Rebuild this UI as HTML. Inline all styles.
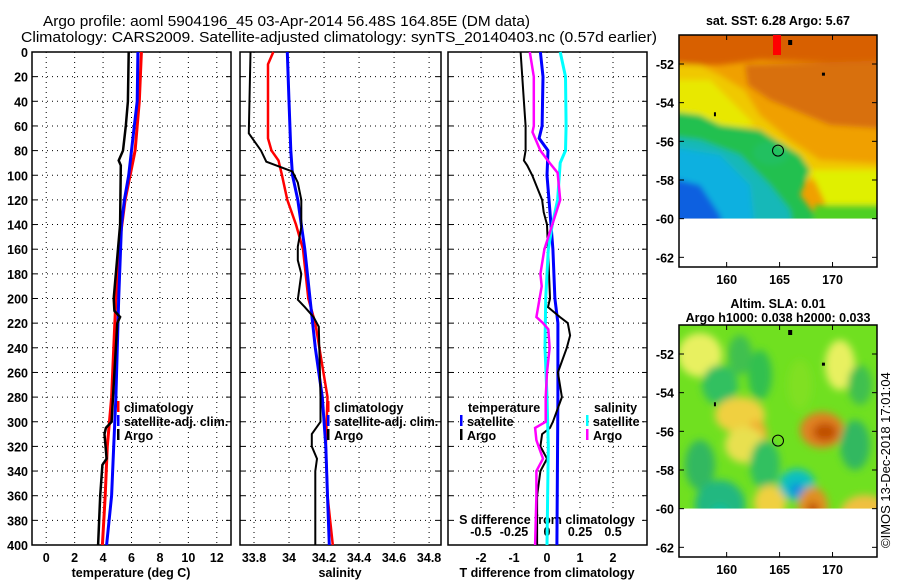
<!DOCTYPE html>
<html><head><meta charset="utf-8">
<style>
html,body{margin:0;padding:0;background:#fff;}
svg{display:block;font-family:"Liberation Sans",sans-serif;}
.tk{font-weight:bold;font-size:12.5px;fill:#000;}
.lg{font-weight:bold;font-size:12.5px;fill:#000;}
</style></head>
<body>
<svg id="chart" width="900" height="580" viewBox="0 0 900 580" xmlns="http://www.w3.org/2000/svg">
<text x="43" y="26" font-size="15" textLength="487" lengthAdjust="spacingAndGlyphs">Argo profile: aoml 5904196_45 03-Apr-2014 56.48S 164.85E (DM data)</text>
<text x="21" y="42" font-size="15" textLength="636" lengthAdjust="spacingAndGlyphs">Climatology: CARS2009. Satellite-adjusted climatology: synTS_20140403.nc (0.57d earlier)</text>
<g id="g-main"></g>
<g id="g-maps"></g>
<text transform="translate(890,548) rotate(-90)" font-size="13">©IMOS 13-Dec-2018 17:01:04</text>
</svg>
<script>
// ---- data ----
const depthTicks = [0,20,40,60,80,100,120,140,160,180,200,220,240,260,280,300,320,340,360,380,400];
const tempTicks = [0,2,4,6,8,10,12];
const salTicks = [33.8,34,34.2,34.4,34.6,34.8];
const salTickLabels = ["33.8","34","34.2","34.4","34.6","34.8"];
const tdiffTicks = [-2,-1,0,1,2];
const sdiffTicks = [-0.5,-0.25,0,0.25,0.5];
const sdiffTickLabels = ["-0.5","-0.25","0","0.25","0.5"];

const argoTDepth = [0,40,60,80,88,92,140,200,210,215,220,260,300,305,310,330,335,360,400];
const argoT      = [5.8,5.75,5.6,5.4,5.1,5.25,5.2,4.75,4.8,5.2,5.0,4.8,4.6,4.2,4.1,4.25,3.95,3.8,3.65];
const climTDepth = [0,40,80,120,160,200,280,320,360,400];
const climT      = [6.7,6.55,6.25,5.55,5.1,4.9,4.6,4.3,4.15,3.95];
const satTDepth  = [0,40,60,80,100,120,140,200,280,320,360,400];
const satT       = [6.45,6.4,6.2,6.0,5.8,5.5,5.3,5.1,4.9,4.75,4.6,4.25];

const argoSDepth = [0,66,80,89,97,106,120,142,158,169,180,201,207,215,223,280,300,310,320,330,340,400];
const argoS      = [33.78,33.77,33.84,33.87,34.02,34.05,34.07,34.07,34.05,34.05,34.07,34.05,34.09,34.14,34.17,34.18,34.18,34.13,34.13,34.16,34.15,34.15];
const climSDepth = [0,10,70,80,88,100,120,140,160,200,220,280,320,360,400];
const climS      = [33.91,33.88,33.88,33.9,33.94,33.96,33.99,34.04,34.08,34.11,34.15,34.22,34.21,34.22,34.25];
const satSDepth  = [0,40,80,100,120,140,160,200,240,280,320,360,400];
const satS       = [33.99,34.0,34.01,34.02,34.05,34.07,34.09,34.12,34.15,34.19,34.21,34.22,34.23];

const dTsatDepth = [0,20,60,70,80,100,130,160,200,220,280,400];
const dTsat      = [-0.2,-0.12,-0.15,-0.24,0.03,0.0,0.09,0.18,0.24,0.33,0.33,0.3];
const dTargoDepth= [0,40,60,80,88,92,100,120,130,140,160,200,207,215,220,230,240,260,280,300,305,310,320,330,340,360,400];
const dTargo     = [-0.8,-0.7,-0.65,-0.65,-0.7,-0.6,-0.45,-0.15,-0.1,0.0,0.03,0.09,0.03,0.39,0.63,0.7,0.6,0.33,0.45,0.18,0.09,-0.15,-0.2,0.0,-0.2,-0.3,-0.3];
const dSargoDepth= [0,20,60,65,80,90,98,120,140,160,180,190,215,220,225,240,260,280,300,305,315,330,340,360,400];
const dSargo     = [-0.13,-0.1,-0.1,-0.11,-0.05,0.02,0.08,0.1,0.04,-0.02,-0.05,-0.04,-0.08,-0.03,0.01,0.02,0.0,-0.01,-0.01,-0.09,-0.08,-0.03,-0.08,-0.08,-0.09];
const dSsatDepth = [0,20,60,80,90,120,140,160,200,240,280,320,400];
const dSsat      = [0.1,0.14,0.145,0.14,0.1,0.08,0.04,0.01,-0.01,-0.015,0.0,0.01,0.0];

const latTicks = [-52,-54,-56,-58,-60,-62];
const lonTicks = [160,165,170];

// ---- helpers ----
const NS="http://www.w3.org/2000/svg";
function mk(tag,attrs,parent){const e=document.createElementNS(NS,tag);for(const k in attrs)e.setAttribute(k,attrs[k]);parent.appendChild(e);return e;}
const G=document.getElementById('g-main');
const top0=52, bot0=545;
function yD(d){return top0+(bot0-top0)*d/400;}

function panel(x0,x1,xmin,xmax,ticks,name,gridTicks){
  const xs=v=>x0+(x1-x0)*(v-xmin)/(xmax-xmin);
  const g=mk('g',{},G);
  
  
  depthTicks.forEach(d=>{ if(d>0&&d<400){const l=mk('line',{x1:x0,x2:x1,y1:yD(d),y2:yD(d),stroke:'#000','stroke-width':1,'stroke-dasharray':'1,4'},g);
    }
    mk('line',{x1:x0,x2:x0+5,y1:yD(d),y2:yD(d),stroke:'#000'},g);
    mk('line',{x1:x1-5,x2:x1,y1:yD(d),y2:yD(d),stroke:'#000'},g);});
  gridTicks.forEach(v=>{const l=mk('line',{x1:xs(v),x2:xs(v),y1:top0,y2:bot0,stroke:'#000','stroke-width':1,'stroke-dasharray':'1,4'},g);
    });
  const r=mk('rect',{x:x0,y:top0,width:x1-x0,height:bot0-top0,fill:'none',stroke:'#000','stroke-width':1.5},g);
  
  return {xs,g};
}
function series(p,depths,vals,color,w,name){
  const pts=depths.map((d,i)=>p.xs(vals[i]).toFixed(1)+','+yD(d).toFixed(1)).join(' ');
  const l=mk('polyline',{points:pts,fill:'none',stroke:color,'stroke-width':w},p.g);
  
  
}
function txt(x,y,s,cls,anchor,parent,name){const t=mk('text',{x,y,class:cls,'text-anchor':anchor||'start'},parent||G);t.textContent=s;
  return t;}

// Panel 1: temperature
const p1=panel(32,231,-1,13,tempTicks,'temperature',tempTicks);
tempTicks.forEach(v=>txt(p1.xs(v),562,String(v),'tk','middle',p1.g,'x-tick-label'));
depthTicks.forEach(d=>txt(28,yD(d)+5,String(d),'tk','end',p1.g,'y-tick-label'));
txt(131,577,'temperature (deg C)','tk','middle',p1.g,'x-axis-title');
series(p1,climTDepth,climT,'#ff0000',3,'temp-climatology-line');
series(p1,satTDepth,satT,'#0000ff',3,'temp-satellite-line');
series(p1,argoTDepth,argoT,'#000',2.5,'temp-argo-line');

// Panel 2: salinity
const p2=panel(240,441,33.72,34.868,salTicks,'salinity',salTicks);
salTicks.forEach((v,i)=>txt(p2.xs(v),562,salTickLabels[i],'tk','middle',p2.g,'x-tick-label'));
txt(340,577,'salinity','tk','middle',p2.g,'x-axis-title');
series(p2,climSDepth,climS,'#ff0000',2.5,'sal-climatology-line');
series(p2,satSDepth,satS,'#0000ff',3,'sal-satellite-line');
series(p2,argoSDepth,argoS,'#000',2,'sal-argo-line');

// Panel 3: differences
const p3=panel(448,647,-3.0,3.03,tdiffTicks,'difference',tdiffTicks);
const xsS=v=>p3.xs(v*4);
tdiffTicks.forEach(v=>txt(p3.xs(v),562,String(v),'tk','middle',p3.g,'x-tick-label'));
txt(547,577,'T difference from climatology','tk','middle',p3.g,'x-axis-title');
const wb=mk('rect',{x:455,y:512,width:184,height:32,fill:'#fff'},p3.g);
sdiffTicks.forEach((v,i)=>txt(xsS(v),536,sdiffTickLabels[i],'tk','middle',p3.g,'s-tick-label'));
txt(547,524,'S difference from climatology','tk','middle',p3.g,'s-axis-title');
series(p3,dTsatDepth,dTsat,'#0000ff',3,'tdiff-satellite-line');
series(p3,dTargoDepth,dTargo,'#000',2,'tdiff-argo-line');
const pS={xs:xsS,g:p3.g};
series(pS,dSsatDepth,dSsat,'#00ffff',3,'sdiff-satellite-line');
series(pS,dSargoDepth,dSargo,'#ff00ff',2.5,'sdiff-argo-line');

// legends
function legItem(x,y,color,label,name,g){
  const m=mk('rect',{x:x,y:y-6,width:2.5,height:11,fill:color},g);
  
  txt(x+7,y+5,label,'lg','start',g,name);
}
legItem(117,407,'#ff0000','climatology','legend-climatology',p1.g);
legItem(117,421,'#0000ff','satellite-adj. clim.','legend-satellite',p1.g);
legItem(117,435,'#000','Argo','legend-argo',p1.g);
legItem(327,407,'#ff0000','climatology','legend-climatology',p2.g);
legItem(327,421,'#0000ff','satellite-adj. clim.','legend-satellite',p2.g);
legItem(327,435,'#000','Argo','legend-argo',p2.g);
txt(468,412,'temperature','lg','start',p3.g,'legend-temperature-heading');
legItem(460,421,'#0000ff','satellite','legend-t-satellite',p3.g);
legItem(460,435,'#000','Argo','legend-t-argo',p3.g);
txt(594,412,'salinity','lg','start',p3.g,'legend-salinity-heading');
legItem(586,421,'#00ffff','satellite','legend-s-satellite',p3.g);
legItem(586,435,'#ff00ff','Argo','legend-s-argo',p3.g);

// ---- maps ----
const M=document.getElementById('g-maps');
function map(y0,name,title1,title2,shapes,base,blur){
  const x0=679,x1=877,y1=y0+232;
  const lonX=v=>x0+(v-155.5)*(x1-x0)/(174.2-155.5);
  const latY=v=>y0+(-50.5-v)*(y1-y0)/12;
  const g=mk('g',{},M);
  
  const cid='clip'+y0;
  const cp=mk('clipPath',{id:cid},g);mk('rect',{x:x0,y:y0,width:x1-x0,height:latY(-60)-y0},cp);
  const f=mk('filter',{id:'bl'+y0,x:'-50%',y:'-50%',width:'200%',height:'200%'},g);mk('feGaussianBlur',{stdDeviation:blur},f);
  const img=mk('g',{'clip-path':'url(#'+cid+')'},g);
  mk('rect',{x:x0,y:y0,width:x1-x0,height:232,fill:base},img);
  const bg=mk('g',{filter:'url(#bl'+y0+')'},img);
  shapes.forEach(s=>{ if(s[0]==='e')mk('ellipse',{cx:s[1],cy:y0+s[2],rx:s[3],ry:s[4],fill:s[5]},bg);
    else mk('polygon',{points:s[1].map((v,i)=>i%2?v+y0:v).join(' '),fill:s[2]},bg);});
  mk('rect',{x:x0,y:latY(-60),width:x1-x0,height:y1-latY(-60),fill:'#fff'},g);
  mk('rect',{x:x0,y:y0,width:x1-x0,height:232,fill:'none',stroke:'#000','stroke-width':1.5},g);
  latTicks.forEach(v=>{mk('line',{x1:x0,x2:x0+5,y1:latY(v),y2:latY(v),stroke:'#000'},g);mk('line',{x1:x1-5,x2:x1,y1:latY(v),y2:latY(v),stroke:'#000'},g);
    txt(x0-5,latY(v)+5,String(v),'tk','end',g,'lat-tick-label');});
  lonTicks.forEach(v=>{mk('line',{x1:lonX(v),x2:lonX(v),y1:y0,y2:y0+5,stroke:'#000'},g);mk('line',{x1:lonX(v),x2:lonX(v),y1:y1-5,y2:y1,stroke:'#000'},g);
    txt(lonX(v),y1+17,String(v),'tk','middle',g,'lon-tick-label');});
  const c=mk('circle',{cx:lonX(164.85),cy:latY(-56.48),r:5.5,fill:'none',stroke:'#000','stroke-width':1},g);
  
  mk('rect',{x:lonX(166)-2,y:y0+5,width:4,height:5,fill:'#000'},g);
  mk('rect',{x:lonX(169),y:latY(-52.5)-1,width:3,height:3,fill:'#000'},g);
  mk('rect',{x:lonX(158.8),y:latY(-54.6)-2,width:2,height:4,fill:'#000'},g);
  if(title2){txt(778,y0-17,title1,'tk','middle',g,name+'-title');txt(778,y0-3,title2,'tk','middle',g,name+'-subtitle');}
  else txt(778,y0-10,title1,'tk','middle',g,name+'-title');
  return g;
}
map(35,'sst-map','sat. SST: 6.28 Argo: 5.67',null,[
  ['p',[660,-20,900,-20,900,30,760,25,720,30,700,30,660,30],'#d86000'],
  ['p',[745,30,900,25,900,95,830,90,770,65,748,50],'#d87010'],
  ['p',[770,70,830,92,900,95,900,130,840,130,800,110],'#f0a000'],
  ['p',[660,28,700,30,720,40,745,55,760,80,790,105,820,125,900,130,900,150,800,145,760,110,720,100,660,100],'#f0c800'],
  ['p',[660,45,710,45,735,70,755,90,720,95,660,100],'#e8e800'],
  ['p',[660,75,700,80,720,90,760,95,780,108,800,120,810,135,800,160,815,180,840,195,850,240,660,240],'#20c050'],
  ['p',[660,100,700,105,740,120,770,150,790,175,800,240,660,240],'#18b8b8'],
  ['p',[660,110,720,120,750,150,760,240,660,240],'#10b0e0'],
  ['p',[660,140,700,150,720,180,735,240,660,240],'#1060e0'],
  ['p',[810,135,900,135,900,180,830,180],'#e0f000'],
  ['p',[815,170,900,170,900,240,805,240],'#50d020'],
  ['e',771,118,18,12,'#20c060']
],'#f0a000',3);
// red patch on SST map
const rp=mk('rect',{x:773,y:35,width:8,height:20,fill:'#ff0000'},M);

map(325,'sla-map','Altim. SLA: 0.01','Argo h1000: 0.038 h2000: 0.033',[
  ['e',700,30,22,22,'#e8f060'],['e',720,60,18,20,'#30c060'],['e',740,30,12,20,'#40c050'],['e',760,50,12,25,'#30c050'],
  ['e',740,90,25,18,'#f0d040'],['e',757,110,10,15,'#f0b030'],['e',745,120,20,18,'#e8e050'],
  ['e',700,140,15,25,'#30b860'],['e',720,180,25,25,'#20b880'],['e',720,190,10,10,'#10c0a0'],
  ['e',765,140,15,25,'#30c060'],['e',770,178,16,18,'#f0d040'],
  ['e',822,105,22,18,'#e08020'],['e',825,107,12,9,'#c05000'],
  ['e',797,160,18,16,'#10c0c0'],['e',797,165,7,7,'#1090e0'],
  ['e',813,182,15,20,'#e09020'],['e',813,186,6,9,'#c05000'],
  ['e',855,120,15,25,'#30b860'],['e',865,190,25,20,'#f0c040'],['e',840,40,15,25,'#e8f060'],
  ['e',800,60,12,25,'#80e020'],['e',840,210,12,10,'#40c040'],['e',860,60,12,20,'#40c050']
],'#70e020',4);
</script>
</body></html>
